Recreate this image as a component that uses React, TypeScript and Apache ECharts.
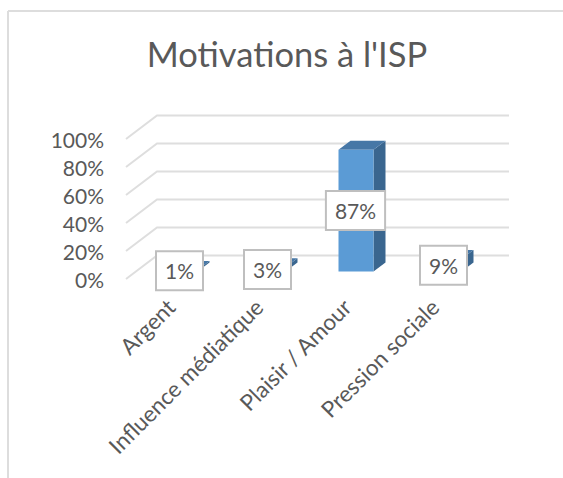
import React, { useEffect, useRef } from "react";
import * as echarts from "echarts";

const titleText = "Motivations à l'ISP";
const categories = ["Argent", "Influence médiatique", "Plaisir / Amour", "Pression sociale"];
const values = [1, 3, 87, 9];
const yTicks = [0, 20, 40, 60, 80, 100];

const FONT = 'Lato, sans-serif';
const TEXT = "#595959";
const GRID = "#DEDEDE";
const WALL_DX = 31, WALL_DY = -23.5;
const BAR_DX = 10, BAR_DY = -7.5;
const SIDE_DX = 12, SIDE_DY = -9;
const BAR_W = 35;

export default function App() {
  const ref = useRef<HTMLDivElement>(null);
  useEffect(() => {
    document.body.style.margin = "0";
    const chart = echarts.init(ref.current!, null, { renderer: "svg" });
    chart.setOption({
      animation: false,
      backgroundColor: "#fff",
      title: {
        text: titleText, left: 282, top: 31, textAlign: "center",
        textStyle: { fontFamily: FONT, fontSize: 34.5, fontWeight: "normal", color: TEXT },
      },
      grid: [
        { left: 126, top: 139, width: 352, height: 140 },
        { left: 127, top: 139, width: 352, height: 140 },
      ],
      xAxis: [
        { type: "category", gridIndex: 0, data: categories, axisLine: { show: false }, axisTick: { show: false }, axisLabel: { show: false } },
        {
          type: "category", gridIndex: 1, data: categories, axisLine: { show: false }, axisTick: { show: false },
          axisLabel: { rotate: 45, interval: 0, margin: 24, fontFamily: FONT, fontSize: 22.5, color: TEXT },
        },
      ],
      yAxis: [
        {
          type: "value", gridIndex: 0, min: 0, max: 100, interval: 20,
          axisLine: { show: false }, axisTick: { show: false }, splitLine: { show: false },
          axisLabel: { margin: 22, fontFamily: FONT, fontSize: 21, color: TEXT, formatter: "{value}%" },
        },
        { type: "value", gridIndex: 1, min: 0, max: 100, show: false },
      ],
      graphic: [
        { type: "line", shape: { x1: 8, y1: 11, x2: 563, y2: 11 }, style: { stroke: "#DDDDDD", lineWidth: 2 } },
        { type: "line", shape: { x1: 8, y1: 11, x2: 8, y2: 478 }, style: { stroke: "#DDDDDD", lineWidth: 2 } },
      ],
      series: [
        {
          type: "custom", xAxisIndex: 0, yAxisIndex: 0, z: 1,
          data: yTicks.map((t) => [0, t]),
          renderItem: (params: any, api: any) => {
            const y = api.coord([0, api.value(1)])[1];
            const x0 = params.coordSys.x;
            const x1 = x0 + params.coordSys.width;
            return {
              type: "polyline",
              shape: { points: [[x0, y], [x0 + WALL_DX, y + WALL_DY], [x1 + WALL_DX, y + WALL_DY]] },
              style: { stroke: GRID, lineWidth: 2, fill: "none" },
            };
          },
        },
        {
          type: "custom", xAxisIndex: 0, yAxisIndex: 0, z: 2,
          data: values.map((v, i) => [i, v]),
          renderItem: (_p: any, api: any) => {
            const [cx, top] = api.coord([api.value(0), api.value(1)]);
            const base = api.coord([api.value(0), 0])[1] + BAR_DY;
            const l = cx + BAR_DX - BAR_W / 2, r = l + BAR_W, t = top + BAR_DY;
            return {
              type: "group",
              children: [
                { type: "polygon", shape: { points: [[r, t], [r + SIDE_DX, t + SIDE_DY], [r + SIDE_DX, base + SIDE_DY], [r, base]] }, style: { fill: "#3A668F" } },
                { type: "polygon", shape: { points: [[l, t], [l + SIDE_DX, t + SIDE_DY], [r + SIDE_DX, t + SIDE_DY], [r, t]] }, style: { fill: "#4677A6" } },
                { type: "rect", shape: { x: l, y: t, width: BAR_W, height: base - t }, style: { fill: "#5B9BD5" } },
              ],
            };
          },
        },
        {
          type: "custom", xAxisIndex: 0, yAxisIndex: 0, z: 3,
          data: values.map((v, i) => [i, v]),
          renderItem: (_p: any, api: any) => {
            const [cx, top] = api.coord([api.value(0), api.value(1)]);
            const base = api.coord([api.value(0), 0])[1];
            return {
              type: "text",
              x: cx + BAR_DX - 0.5,
              y: (top + base) / 2 + BAR_DY,
              style: {
                text: api.value(1) + "%",
                align: "center", verticalAlign: "middle",
                font: `21px ${FONT}`, fill: TEXT,
                backgroundColor: "#fff", borderColor: "#BFBFBF", borderWidth: 2,
                padding: [8, 8, 8, 8],
              },
            };
          },
        },
      ],
    });
    return () => chart.dispose();
  }, []);
  return <div ref={ref} style={{ width: 563, height: 478 }} />;
}
